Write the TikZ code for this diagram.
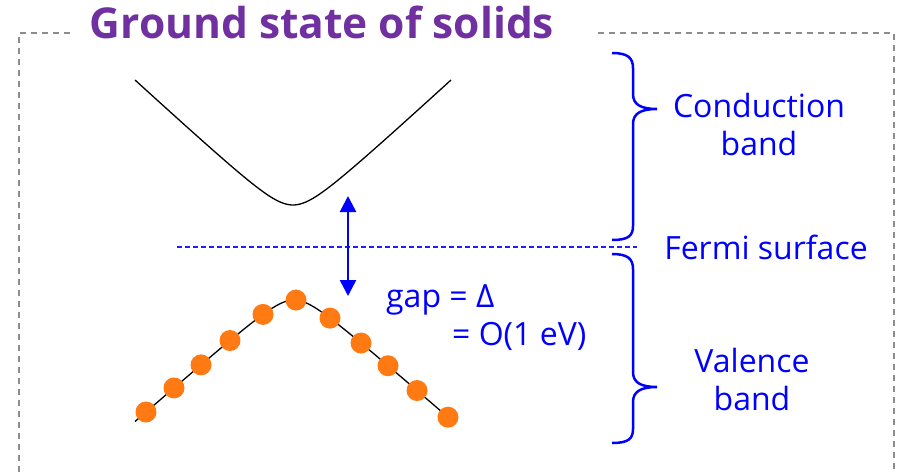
\documentclass[tikz,border=0pt]{standalone}
\usepackage{fontspec}
\setmainfont{Open Sans}
\usetikzlibrary{arrows.meta}
\definecolor{titlepurple}{RGB}{112,48,160}
\definecolor{dotorange}{RGB}{255,122,18}
\definecolor{framegray}{RGB}{140,140,140}
\definecolor{fermiblue}{RGB}{30,30,255}
\tikzset{
  frame/.style={draw=framegray,line width=1.5pt,dash pattern=on 6pt off 5pt},
  band/.style={draw=black,line width=1.3pt},
  brace/.style={draw=blue,line width=2.5pt},
  fermiline/.style={draw=fermiblue,line width=2pt,dash pattern=on 5pt off 3pt},
  bandlabel/.style={text=blue,font=\fontsize{32}{38}\selectfont,align=center,inner sep=0pt},
  gaplabel/.style={text=blue,font=\fontsize{32}{38}\selectfont,align=left,inner sep=0pt,anchor=base west},
  dot/.style={circle,fill=dotorange,draw=none,minimum size=21pt,inner sep=0pt}
}
\begin{document}
\begin{tikzpicture}[x=1pt,y=-1pt]
\useasboundingbox (0,0) rectangle (899,471);
% frame and title
\draw[frame] (70,33) -- (19,33) -- (19,480);
\draw[frame] (598,33) -- (894,33) -- (894,480);
\node[text=titlepurple,font=\bfseries\fontsize{42.5}{48}\selectfont,anchor=base,inner sep=0pt] (title) at (322,38) {Ground state of solids};
% conduction band
\draw[band] plot[domain=135:451,samples=90] (\x,{227-10*sqrt(4.84+(0.092*(\x-293))^2)});
% fermi level and gap
\coordinate (fermiL) at (177,247);
\coordinate (fermiR) at (637,247);
\draw[fermiline] (fermiL) -- (fermiR);
\coordinate (gaptop) at (348,196);
\coordinate (gapbot) at (348,296);
\draw[blue,line width=2.5pt,{Triangle[length=16pt,width=16pt]}-{Triangle[length=16pt,width=16pt]}] (gaptop) -- (gapbot);
% valence band
\draw[band] plot[domain=135:448,samples=90] (\x,{282+10*sqrt(3.24+(0.087*(\x-294))^2)});
\foreach \px [count=\i] in {146,174,201,230,263,296,330,361,388,417,448} {
  \pgfmathsetmacro\py{282+10*sqrt(3.24+(0.087*(\px-294))^2)}
  \node[dot] (v\i) at (\px,\py) {};
}
% braces
\draw[brace] (612,53) .. controls (628,53) and (633,58) .. (633,68) -- (633,94)
  .. controls (633,104) and (640,109) .. (657,109)
  .. controls (640,109) and (633,114) .. (633,124) -- (633,226)
  .. controls (633,236) and (628,240) .. (612,240);
\draw[brace] (612,254) .. controls (628,254) and (633,259) .. (633,269) -- (633,372)
  .. controls (633,382) and (640,387) .. (657,387)
  .. controls (640,387) and (633,392) .. (633,402) -- (633,429)
  .. controls (633,439) and (628,443) .. (612,443);
% labels
\node[bandlabel,anchor=base] (cond) at (759,155) {Conduction\\band};
\node[bandlabel,anchor=base] (fermi) at (766,259) {Fermi surface};
\node[bandlabel,anchor=base] (val) at (752,410) {Valence\\band};
\node[gaplabel] (gap) at (386,307) {gap = Δ};
\node[gaplabel] (order) at (452,345) {= O(1 eV)};
\end{tikzpicture}
\end{document}
